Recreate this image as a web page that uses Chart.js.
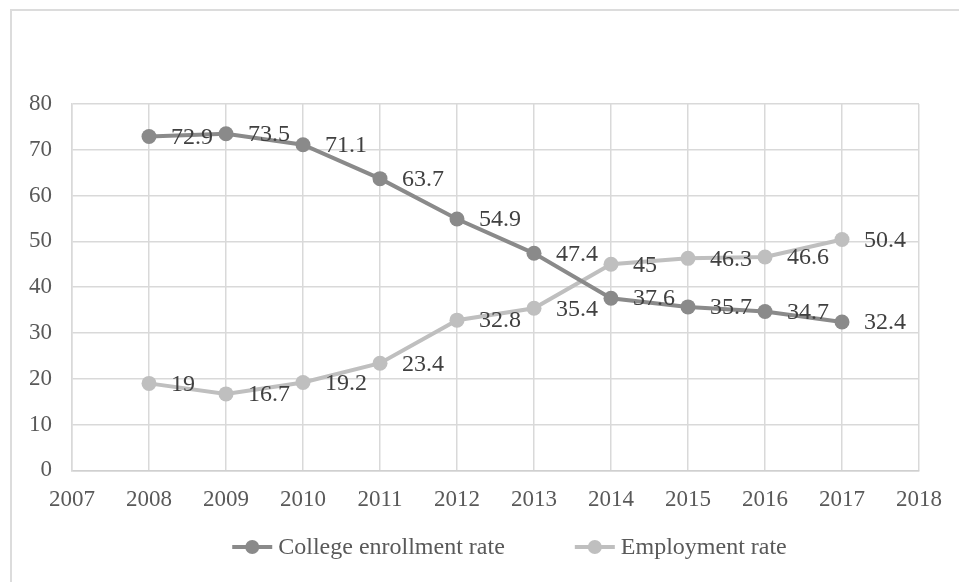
<!DOCTYPE html>
<html>
<head>
<meta charset="utf-8">
<script src="https://cdn.jsdelivr.net/npm/chart.js@4"></script>
<style>
    html, body { margin: 0; padding: 0; background: #fff; overflow: hidden; }
    #wrap { position: relative; width: 959px; height: 582px; }
    #frame {
        position: absolute; left: 10px; top: 9px; width: 2000px; height: 2000px;
        border: 2px solid #dcdcdc; box-sizing: border-box;
    }
    canvas { position: absolute; left: 0; top: 0; }
</style>
</head>
<body>
<div id="wrap">
    <div id="frame"></div>
    <canvas id="lineChart" width="959" height="582"></canvas>
</div>
<script>
const years = [2008, 2009, 2010, 2011, 2012, 2013, 2014, 2015, 2016, 2017];
const enrollmentRate = [72.9, 73.5, 71.1, 63.7, 54.9, 47.4, 37.6, 35.7, 34.7, 32.4];
const employmentRate = [19, 16.7, 19.2, 23.4, 32.8, 35.4, 45, 46.3, 46.6, 50.4];
const seriesNames = ['College enrollment rate', 'Employment rate'];
const seriesColors = ['#8a8a8a', '#bfbfbf'];

const FONT = "'Liberation Serif', 'Times New Roman', serif";

// value labels to the right of each point
const pointLabels = {
    id: 'pointLabels',
    afterDatasetsDraw(chart) {
        const ctx = chart.ctx;
        ctx.save();
        ctx.font = '24px ' + FONT;
        ctx.fillStyle = '#404040';
        ctx.textAlign = 'left';
        ctx.textBaseline = 'middle';
        chart.data.datasets.forEach((ds, i) => {
            const meta = chart.getDatasetMeta(i);
            meta.data.forEach((pt, j) => {
                ctx.fillText(String(ds.data[j].y), pt.x + 22, pt.y + 1);
            });
        });
        ctx.restore();
    }
};

// Excel-style legend: line with marker, then text
const bottomLegend = {
    id: 'bottomLegend',
    afterDraw(chart) {
        const ctx = chart.ctx;
        const area = chart.chartArea;
        ctx.save();
        ctx.font = '24px ' + FONT;
        const lineLen = 40, textGap = 6, itemGap = 70;
        const widths = chart.data.datasets.map(ds => lineLen + textGap + ctx.measureText(ds.label).width);
        const total = widths.reduce((a, b) => a + b, 0) + itemGap * (widths.length - 1);
        let x = (area.left + area.right) / 2 + 14 - total / 2;
        const y = 547;
        chart.data.datasets.forEach((ds, i) => {
            ctx.strokeStyle = ds.borderColor;
            ctx.lineWidth = 4;
            ctx.beginPath();
            ctx.moveTo(x, y);
            ctx.lineTo(x + lineLen, y);
            ctx.stroke();
            ctx.fillStyle = ds.borderColor;
            ctx.beginPath();
            ctx.arc(x + lineLen / 2, y, 7, 0, Math.PI * 2);
            ctx.fill();
            ctx.fillStyle = '#595959';
            ctx.textAlign = 'left';
            ctx.textBaseline = 'middle';
            ctx.fillText(ds.label, x + lineLen + textGap, y + 1);
            x += widths[i] + itemGap;
        });
        ctx.restore();
    }
};

function makeSeries(values, idx) {
    return {
        label: seriesNames[idx],
        data: years.map((yr, i) => ({ x: yr, y: values[i] })),
        borderColor: seriesColors[idx],
        backgroundColor: seriesColors[idx],
        borderWidth: 4,
        pointRadius: 7.5,
        pointHoverRadius: 7.5,
        pointBorderWidth: 0,
        tension: 0
    };
}

new Chart(document.getElementById('lineChart'), {
    type: 'line',
    data: {
        datasets: [makeSeries(enrollmentRate, 0), makeSeries(employmentRate, 1)]
    },
    options: {
        responsive: false,
        animation: false,
        layout: { padding: { left: 9, right: 40, top: 104, bottom: 52 } },
        scales: {
            x: {
                type: 'linear',
                min: 2007,
                max: 2018,
                grid: { color: '#d9d9d9', lineWidth: 1.5, drawTicks: false },
                border: { color: '#d0d0d0', width: 1.5 },
                ticks: {
                    stepSize: 1,
                    padding: 16,
                    color: '#595959',
                    font: { family: FONT, size: 23 },
                    callback: v => String(v)
                }
            },
            y: {
                min: 0,
                max: 80,
                grid: { color: '#d9d9d9', lineWidth: 1.5, drawTicks: false },
                border: { color: '#d9d9d9', width: 1.5 },
                ticks: {
                    stepSize: 10,
                    padding: 20,
                    color: '#595959',
                    font: { family: FONT, size: 23 }
                }
            }
        },
        plugins: {
            legend: { display: false },
            tooltip: { enabled: false }
        }
    },
    plugins: [pointLabels, bottomLegend]
});
</script>
</body>
</html>
